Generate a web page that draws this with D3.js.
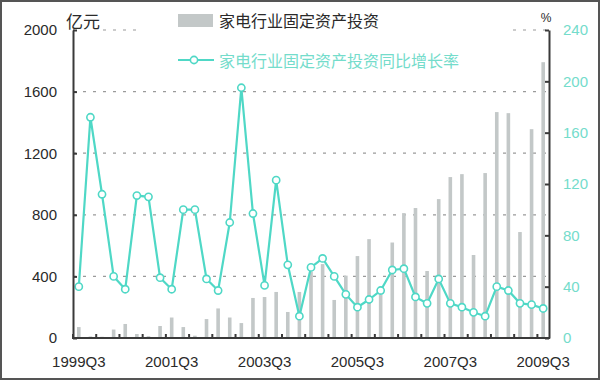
<!DOCTYPE html>
<html>
<head>
<meta charset="utf-8">
<script src="https://cdn.jsdelivr.net/npm/d3@7/dist/d3.min.js"></script>
<style>
  html, body { margin: 0; padding: 0; background: #fff; }
  svg { display: block; }
</style>
</head>
<body>
<div id="chart"></div>
<script>
// quarters on the category axis
const quarters = [
    "1999Q3", "1999Q4",
    "2000Q1", "2000Q2", "2000Q3", "2000Q4",
    "2001Q1", "2001Q2", "2001Q3", "2001Q4",
    "2002Q1", "2002Q2", "2002Q3", "2002Q4",
    "2003Q1", "2003Q2", "2003Q3", "2003Q4",
    "2004Q1", "2004Q2", "2004Q3", "2004Q4",
    "2005Q1", "2005Q2", "2005Q3", "2005Q4",
    "2006Q1", "2006Q2", "2006Q3", "2006Q4",
    "2007Q1", "2007Q2", "2007Q3", "2007Q4",
    "2008Q1", "2008Q2", "2008Q3", "2008Q4",
    "2009Q1", "2009Q2", "2009Q3"
];

// 家电行业固定资产投资 (亿元)
const investment = [
    71, 10,
    8, 55, 91, 26,
    12, 78, 133, 71,
    15, 123, 192, 133,
    97, 260, 266, 299,
    169, 299, 430, 480,
    247, 405, 532, 642,
    279, 620, 811, 844,
    435, 902, 1045, 1064,
    539, 1071, 1467, 1460,
    688, 1356, 1791
];

// 同比增长率 (%)
const growth = [
    40, 172,
    112, 48, 38, 111,
    110, 47, 38, 100,
    100, 46, 37, 90,
    195, 97, 41, 123,
    57, 17, 55, 62,
    48, 34, 24, 30,
    37, 53, 54, 32,
    27, 46, 27, 24,
    20, 17, 40, 37,
    27, 26, 23
];

const leftTicks = [0, 400, 800, 1200, 1600, 2000];
const rightTicks = [0, 40, 80, 120, 160, 200, 240];
const xLabels = ["1999Q3", "2001Q3", "2003Q3", "2005Q3", "2007Q3", "2009Q3"];

const seriesNames = ["家电行业固定资产投资", "家电行业固定资产投资同比增长率"];

// layout / style
const attrs = {
    width: 600,
    height: 380,
    plotLeft: 73,
    plotRight: 549,
    plotTop: 30,
    plotBottom: 338,
    axisColor: "#3a3a3a",
    textColor: "#2a2a2a",
    barColor: "#c3c8c8",
    lineColor: "#4fd8c6",
    rightTextColor: "#74dccb",
    gridColor: "#9a9a9a",
    numFont: "'Liberation Sans', Arial, sans-serif",
    cjkFont: "'Noto Sans CJK SC', sans-serif"
};

const svg = d3.select("#chart").append("svg")
    .attr("width", attrs.width)
    .attr("height", attrs.height);

svg.append("rect")
    .attr("x", 0).attr("y", 0)
    .attr("width", attrs.width).attr("height", attrs.height)
    .attr("fill", "#fff");

const x = d3.scaleBand()
    .domain(quarters)
    .range([attrs.plotLeft, attrs.plotRight])
    .padding(0);

const yLeft = d3.scaleLinear().domain([0, 2000]).range([attrs.plotBottom, attrs.plotTop]);
const yRight = d3.scaleLinear().domain([0, 240]).range([attrs.plotBottom, attrs.plotTop]);

// dashed gridlines at left ticks
svg.append("g").attr("class", "grid")
    .selectAll("line")
    .data(leftTicks.filter(d => d > 0))
    .join("line")
    .attr("x1", attrs.plotLeft)
    .attr("x2", attrs.plotRight)
    .attr("y1", d => yLeft(d))
    .attr("y2", d => yLeft(d))
    .attr("stroke", attrs.gridColor)
    .attr("stroke-width", 1.2)
    .attr("stroke-dasharray", "3,7");

// bars
const barW = 3.6;
svg.append("g").attr("class", "bars")
    .selectAll("rect")
    .data(quarters.map((q, i) => ({ q, v: investment[i] })))
    .join("rect")
    .attr("x", d => x(d.q) + x.bandwidth() / 2 - barW / 2)
    .attr("y", d => yLeft(d.v))
    .attr("width", barW)
    .attr("height", d => yLeft(0) - yLeft(d.v))
    .attr("fill", attrs.barColor);

// legend (white box hides the top gridline)
const legend = svg.append("g").attr("class", "legend");
legend.append("rect")
    .attr("x", 140).attr("y", 6)
    .attr("width", 370).attr("height", 70)
    .attr("fill", "#fff");
legend.append("rect")
    .attr("x", 178).attr("y", 14)
    .attr("width", 35).attr("height", 13)
    .attr("fill", attrs.barColor);
legend.append("text")
    .attr("x", 219).attr("y", 27)
    .attr("font-family", attrs.cjkFont)
    .attr("font-size", 16)
    .attr("fill", attrs.textColor)
    .text(seriesNames[0]);
legend.append("line")
    .attr("x1", 178).attr("x2", 214)
    .attr("y1", 60).attr("y2", 60)
    .attr("stroke", attrs.lineColor)
    .attr("stroke-width", 2);
legend.append("circle")
    .attr("cx", 194).attr("cy", 60).attr("r", 3.6)
    .attr("fill", "#fff")
    .attr("stroke", attrs.lineColor)
    .attr("stroke-width", 1.6);
legend.append("text")
    .attr("x", 219).attr("y", 67)
    .attr("font-family", attrs.cjkFont)
    .attr("font-size", 16)
    .attr("fill", attrs.rightTextColor)
    .text(seriesNames[1]);

// growth line
const cx = d => x(d.q) + x.bandwidth() / 2;
const lineData = quarters.map((q, i) => ({ q, v: growth[i] }));

svg.append("path")
    .datum(lineData)
    .attr("fill", "none")
    .attr("stroke", attrs.lineColor)
    .attr("stroke-width", 2.2)
    .attr("d", d3.line().x(cx).y(d => yRight(d.v)));

svg.append("g").attr("class", "markers")
    .selectAll("circle")
    .data(lineData)
    .join("circle")
    .attr("cx", cx)
    .attr("cy", d => yRight(d.v))
    .attr("r", 3.6)
    .attr("fill", "#fff")
    .attr("stroke", attrs.lineColor)
    .attr("stroke-width", 1.6);

// unit label on a white patch (it covers the start of the top gridline)
svg.append("rect")
    .attr("x", 75).attr("y", 12)
    .attr("width", 25).attr("height", 22)
    .attr("fill", "#fff");
svg.append("text")
    .attr("x", 66).attr("y", 28)
    .attr("font-family", attrs.cjkFont)
    .attr("font-size", 17)
    .attr("fill", attrs.textColor)
    .text("亿元");

// left axis
const leftAxis = svg.append("g")
    .attr("transform", `translate(${attrs.plotLeft},0)`)
    .call(d3.axisLeft(yLeft).tickValues(leftTicks).tickFormat(d3.format("d"))
        .tickSizeInner(-4).tickSizeOuter(0).tickPadding(16));
leftAxis.select(".domain").attr("stroke", attrs.axisColor).attr("stroke-width", 2);
leftAxis.selectAll(".tick line").attr("stroke", attrs.axisColor).attr("stroke-width", 2);
leftAxis.selectAll(".tick text")
    .attr("font-family", attrs.numFont)
    .attr("font-size", 15)
    .attr("fill", attrs.textColor);

// right axis
const rightAxis = svg.append("g")
    .attr("transform", `translate(${attrs.plotRight},0)`)
    .call(d3.axisRight(yRight).tickValues(rightTicks).tickFormat(d3.format("d"))
        .tickSizeInner(-4).tickSizeOuter(0).tickPadding(14));
rightAxis.select(".domain").attr("stroke", attrs.axisColor).attr("stroke-width", 2);
rightAxis.selectAll(".tick line").attr("stroke", attrs.axisColor).attr("stroke-width", 2);
rightAxis.selectAll(".tick text")
    .attr("font-family", attrs.numFont)
    .attr("font-size", 15)
    .attr("fill", attrs.rightTextColor);

// bottom axis: tick marks every 2 category boundaries, labels every 8 quarters
const bottom = svg.append("g").attr("class", "x-axis");
const boundaries = quarters.filter((q, i) => i % 2 === 0).map(q => x(q));
bottom.selectAll("line.tick")
    .data(boundaries)
    .join("line")
    .attr("class", "tick")
    .attr("x1", d => d).attr("x2", d => d)
    .attr("y1", attrs.plotBottom).attr("y2", attrs.plotBottom - 4)
    .attr("stroke", attrs.axisColor)
    .attr("stroke-width", 2);
bottom.append("line")
    .attr("x1", attrs.plotLeft - 1).attr("x2", attrs.plotRight + 1)
    .attr("y1", attrs.plotBottom).attr("y2", attrs.plotBottom)
    .attr("stroke", attrs.axisColor)
    .attr("stroke-width", 2);
bottom.selectAll("text")
    .data(xLabels)
    .join("text")
    .attr("x", d => x(d) + x.bandwidth() / 2)
    .attr("y", 367)
    .attr("text-anchor", "middle")
    .attr("font-family", attrs.numFont)
    .attr("font-size", 15)
    .attr("fill", attrs.textColor)
    .text(d => d);

svg.append("text")
    .attr("x", 546).attr("y", 22)
    .attr("text-anchor", "middle")
    .attr("font-family", attrs.numFont)
    .attr("font-size", 12)
    .attr("fill", attrs.textColor)
    .text("%");

// frame around the picture
svg.append("rect")
    .attr("x", 1).attr("y", 1)
    .attr("width", attrs.width - 2).attr("height", attrs.height - 2)
    .attr("fill", "none")
    .attr("stroke", "#555")
    .attr("stroke-width", 2);
</script>
</body>
</html>
